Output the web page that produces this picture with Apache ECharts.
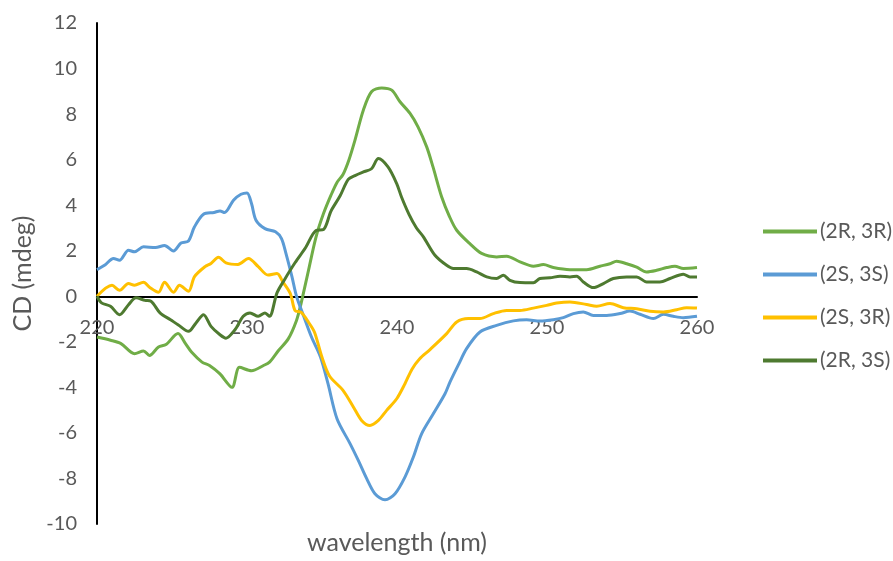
<!DOCTYPE html>
<html>
<head>
<meta charset="utf-8">
<script src="https://cdn.jsdelivr.net/npm/echarts@6/dist/echarts.min.js"></script>
<style>
html,body{margin:0;padding:0;background:#fff;}
#c{width:893px;height:561px;}
</style>
</head>
<body>
<div id="c"></div>
<script>
// Series names (legend order)
const seriesNames = ['(2R, 3R)', '(2S, 3S)', '(2S, 3R)', '(2R, 3S)'];

// (2R, 3R)
const wl_2R3R = [220.0,220.9,221.6,222.5,223.1,223.5,224.1,224.6,225.4,225.9,226.3,227.0,227.5,228.2,229.0,229.5,230.3,231.1,231.5,232.1,232.75,233.3,233.6,234.1,234.6,235.1,235.6,236.0,236.4,236.8,237.2,237.76,238.3,238.98,239.65,240.2,240.87,241.4,241.98,242.4,242.98,243.5,243.98,244.87,245.64,246.64,247.31,248.2,249.09,249.76,250.42,251.53,252.64,253.53,254.2,254.64,255.31,255.98,256.64,257.31,257.98,258.53,259.09,260.0];
const cd_2R3R = [-1.79,-1.93,-2.08,-2.52,-2.40,-2.60,-2.23,-2.12,-1.64,-2.08,-2.45,-2.89,-3.04,-3.41,-4.00,-3.12,-3.27,-3.04,-2.89,-2.38,-1.87,-1.06,-0.33,1.14,2.60,3.63,4.44,5.0,5.35,6.0,6.86,8.18,8.98,9.15,9.05,8.54,8.03,7.44,6.56,5.68,4.36,3.5,2.9,2.3,1.88,1.73,1.76,1.51,1.32,1.39,1.26,1.17,1.17,1.32,1.43,1.54,1.43,1.28,1.07,1.14,1.26,1.32,1.22,1.26];

// (2S, 3S)
const wl_2S3S = [220.0,220.5,221.1,221.5,222.1,222.5,223.1,223.9,224.5,225.1,225.6,226.1,226.5,227.1,227.8,228.2,228.5,229.1,229.6,230.0,230.3,230.6,231.2,231.9,232.3,232.6,233.0,233.3,233.8,234.3,234.9,235.4,236.0,236.87,237.42,237.98,238.53,239.2,239.87,240.53,241.09,241.64,242.42,243.2,243.53,244.1,244.64,245.53,246.64,247.76,248.64,249.53,250.42,251.09,251.76,252.42,253.09,253.98,254.87,255.53,256.2,257.09,257.76,258.42,259.09,260.0];
const cd_2S3S = [1.17,1.36,1.66,1.58,2.02,1.95,2.17,2.14,2.23,1.99,2.34,2.43,3.05,3.60,3.68,3.75,3.68,4.22,4.48,4.54,4.07,3.34,2.97,2.83,2.53,1.87,0.85,0.0,-0.91,-1.79,-2.67,-3.84,-5.38,-6.47,-7.21,-8.01,-8.67,-8.94,-8.67,-7.94,-7.06,-6.04,-5.16,-4.28,-3.77,-3.0,-2.3,-1.57,-1.28,-1.08,-1.03,-1.09,-1.03,-0.94,-0.76,-0.69,-0.84,-0.84,-0.76,-0.65,-0.79,-0.98,-0.79,-0.88,-0.94,-0.88];

// (2S, 3R)
const wl_2S3R = [220.0,221.0,221.5,222.1,222.5,223.1,223.5,224.1,224.5,225.1,225.5,226.1,226.5,227.2,227.6,228.1,228.6,229.4,230.1,230.75,231.4,232.0,232.4,232.9,233.2,233.6,234.1,234.5,235.0,235.5,236.4,237.1,237.64,238.2,238.76,239.31,239.98,240.53,241.0,241.5,242.2,243.31,243.98,244.76,245.53,246.42,247.31,248.2,249.09,249.98,250.64,251.53,252.64,253.31,254.2,255.09,255.98,256.87,257.76,258.64,259.31,260.0];
const cd_2S3R = [0.0,0.48,0.26,0.56,0.48,0.62,0.40,0.18,0.62,0.18,0.48,0.22,0.86,1.30,1.44,1.71,1.47,1.40,1.66,1.30,0.93,1.00,0.62,0.10,-0.62,-0.70,-1.14,-1.58,-2.68,-3.5,-4.13,-4.87,-5.45,-5.67,-5.45,-5.01,-4.5,-3.84,-3.2,-2.75,-2.34,-1.64,-1.13,-0.98,-0.98,-0.76,-0.62,-0.62,-0.52,-0.40,-0.30,-0.25,-0.36,-0.44,-0.32,-0.50,-0.55,-0.66,-0.69,-0.59,-0.50,-0.52];

// (2R, 3S)
const wl_2R3S = [220.0,220.3,220.9,221.5,222.1,222.6,223.2,223.6,224.2,224.9,225.4,226.1,226.6,227.1,227.6,228.2,228.6,229.2,229.75,230.2,230.75,231.2,231.5,232.0,232.5,233.2,233.9,234.6,235.1,235.6,236.2,236.75,237.2,237.76,238.3,238.76,239.4,239.98,240.3,240.8,241.3,241.76,242.53,243.31,243.76,244.64,245.31,245.98,246.64,247.09,247.53,248.2,249.09,249.53,250.2,250.87,251.53,251.98,252.42,253.09,253.76,254.42,255.31,255.98,256.64,257.53,258.2,259.09,259.53,260.0];
const cd_2R3S = [0.0,-0.29,-0.44,-0.81,-0.37,-0.07,-0.18,-0.22,-0.73,-1.03,-1.25,-1.54,-1.17,-0.81,-1.32,-1.69,-1.84,-1.47,-0.88,-0.73,-0.88,-0.73,-0.88,0.15,0.73,1.47,2.13,2.89,2.93,3.74,4.4,5.13,5.3,5.46,5.6,6.05,5.68,4.95,4.36,3.6,3.0,2.61,1.8,1.36,1.22,1.22,1.07,0.85,0.78,0.92,0.70,0.60,0.59,0.78,0.81,0.88,0.85,0.88,0.63,0.38,0.56,0.78,0.85,0.85,0.63,0.63,0.78,0.97,0.85,0.85];

// Axis ticks
const xTicks = { min: 220, max: 260, interval: 10 };
const yTicks = { min: -10, max: 12, interval: 2 };

const colors = ['#70AD47', '#5B9BD5', '#FFC000', '#4E7A30'];
const wls = [wl_2R3R, wl_2S3S, wl_2S3R, wl_2R3S];
const cds = [cd_2R3R, cd_2S3S, cd_2S3R, cd_2R3S];

const FONT = 'Lato';
const TXT = '#595959';

const GRID = { left: 97, right: 196, top: 23, bottom: 37 };
const plotH = 561 - GRID.top - GRID.bottom;
// shift the x axis up so that it sits on the y = 0 line
const zeroShift = plotH * (0 - yTicks.min) / (yTicks.max - yTicks.min);

const chart = echarts.init(document.getElementById('c'), null, { renderer: 'canvas' });
chart.setOption({
  animation: false,
  backgroundColor: '#ffffff',
  grid: Object.assign({ containLabel: false, outerBoundsMode: 'none' }, GRID),
  legend: {
    orient: 'vertical',
    left: 758,
    top: 216,
    icon: 'rect',
    itemWidth: 54,
    itemHeight: 4,
    itemGap: 22,
    data: seriesNames,
    textStyle: { fontFamily: FONT, fontSize: 21, color: TXT, padding: [0, 0, 0, -2] }
  },
  xAxis: {
    type: 'value',
    min: xTicks.min, max: xTicks.max, interval: xTicks.interval,
    offset: -zeroShift,
    name: 'wavelength (nm)',
    nameLocation: 'middle',
    nameGap: 234,
    nameTextStyle: { fontFamily: FONT, fontSize: 25, color: TXT },
    axisLine: { onZero: false, lineStyle: { color: '#000', width: 2 } },
    axisTick: { show: false },
    splitLine: { show: false },
    axisLabel: { fontFamily: FONT, fontSize: 20, color: TXT, margin: 21 }
  },
  yAxis: {
    type: 'value',
    min: yTicks.min, max: yTicks.max, interval: yTicks.interval,
    name: 'CD (mdeg)',
    nameLocation: 'middle',
    nameGap: 56,
    nameTextStyle: { fontFamily: FONT, fontSize: 25, color: TXT },
    axisLine: { show: true, onZero: false, lineStyle: { color: '#000', width: 2 } },
    axisTick: { show: false },
    splitLine: { show: false },
    axisLabel: { fontFamily: FONT, fontSize: 20, color: TXT, margin: 20 }
  },
  series: seriesNames.map((n, i) => ({
    name: n,
    type: 'line',
    smooth: 0.3,
    symbol: 'none',
    color: colors[i],
    lineStyle: { width: 3, color: colors[i] },
    data: wls[i].map((w, j) => [w, cds[i][j]])
  }))
});
</script>
</body>
</html>
